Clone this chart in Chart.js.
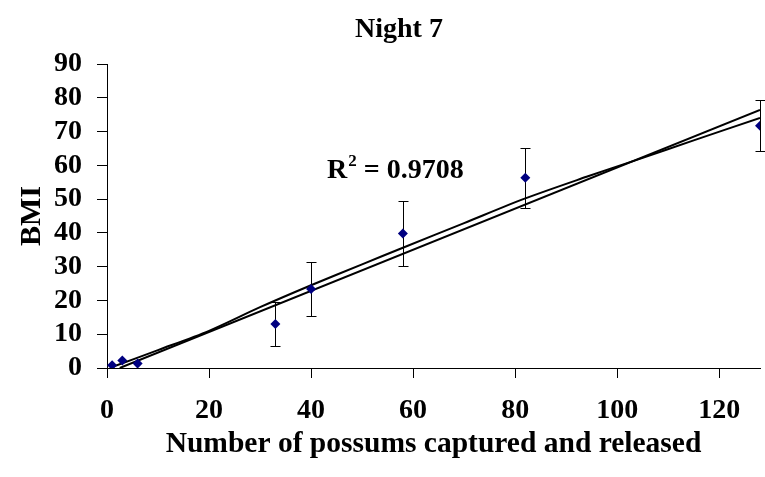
<!DOCTYPE html>
<html>
<head>
<meta charset="utf-8">
<script src="https://cdn.jsdelivr.net/npm/chart.js@4/dist/chart.umd.min.js"></script>
<style>
html,body{margin:0;padding:0;background:#fff;}
#wrap{width:765px;height:477px;}
</style>
</head>
<body>
<div id="wrap"><canvas id="c" width="765" height="477"></canvas></div>
<script>
// ---- data ----
const possums = [1, 3, 6, 33, 40, 58, 82, 128];
const bmi = [0.8, 2.2, 1.3, 13, 23.4, 39.8, 56.3, 71.7];
const bmiError = [0, 0, 0, 6.4, 8.1, 9.6, 8.8, 7.6];

const linearTrendX = [2.5, 128];
const linearTrendY = [0, 76.4];

const polyTrendX = [1, 10, 20, 30, 40, 50, 58, 70, 82, 94, 104, 115, 128];
const polyTrendY = [0.3, 5.3, 11.0, 18.0, 24.5, 30.7, 35.6, 42.9, 50.2, 56.6, 61.7, 67.4, 74.0];

const xTicks = [0, 20, 40, 60, 80, 100, 120];
const yTicks = [0, 10, 20, 30, 40, 50, 60, 70, 80, 90];

const chartTitle = 'Night 7';
const xTitle = 'Number of possums captured and released';
const yTitle = 'BMI';
const r2Label = '0.9708';

const FONT = "'Liberation Serif', 'Times New Roman', serif";

function pts(xs, ys) { return xs.map((x, i) => ({x: x, y: ys[i]})); }

const errorBars = {
  id: 'errorBars',
  beforeDatasetsDraw(chart) {
    const ctx = chart.ctx, xs = chart.scales.x, ys = chart.scales.y;
    ctx.save();
    ctx.strokeStyle = '#000';
    ctx.lineWidth = 1;
    possums.forEach((x, i) => {
      const e = bmiError[i];
      if (!e) return;
      const px = Math.round(xs.getPixelForValue(x)) + 0.5;
      const top = Math.round(ys.getPixelForValue(bmi[i] + e)) + 0.5;
      const bot = Math.round(ys.getPixelForValue(bmi[i] - e)) + 0.5;
      ctx.beginPath();
      ctx.moveTo(px, top); ctx.lineTo(px, bot);
      ctx.moveTo(px - 5, top); ctx.lineTo(px + 5, top);
      ctx.moveTo(px - 5, bot); ctx.lineTo(px + 5, bot);
      ctx.stroke();
    });
    ctx.restore();
  }
};

const texts = {
  id: 'texts',
  afterDraw(chart) {
    const ctx = chart.ctx;
    ctx.save();
    ctx.fillStyle = '#000';
    ctx.textBaseline = 'alphabetic';
    ctx.font = 'bold 28px ' + FONT;
    ctx.textAlign = 'center';
    ctx.fillText(chartTitle, 399, 37);
    // R squared annotation
    ctx.textAlign = 'left';
    let x = 327, y = 178;
    ctx.fillText('R', x, y);
    x += ctx.measureText('R').width;
    ctx.font = 'bold 17px ' + FONT;
    ctx.fillText('2', x + 1, y - 12);
    x += ctx.measureText('2').width + 1;
    ctx.font = 'bold 28px ' + FONT;
    ctx.fillText(' = ' + r2Label, x, y);
    ctx.restore();
  }
};

new Chart(document.getElementById('c'), {
  type: 'scatter',
  data: {
    datasets: [
      {
        label: 'BMI',
        data: pts(possums, bmi),
        pointStyle: 'rectRot',
        pointRadius: 5,
        pointHoverRadius: 5,
        backgroundColor: '#000080',
        borderColor: '#000080',
        borderWidth: 0,
        showLine: false,
        order: 0
      },
      {
        label: 'Linear',
        data: pts(linearTrendX, linearTrendY),
        showLine: true,
        borderColor: '#000',
        borderWidth: 2,
        pointRadius: 0,
        fill: false,
        order: 1
      },
      {
        label: 'Poly',
        data: pts(polyTrendX, polyTrendY),
        showLine: true,
        borderColor: '#000',
        borderWidth: 2,
        pointRadius: 0,
        tension: 0.3,
        fill: false,
        order: 2
      }
    ]
  },
  options: {
    responsive: false,
    animation: false,
    devicePixelRatio: 1,
    layout: { padding: { top: 64, right: 0, bottom: 0, left: 0 } },
    plugins: {
      legend: { display: false },
      title: { display: false },
      tooltip: { enabled: false }
    },
    scales: {
      x: {
        type: 'linear',
        min: 0,
        max: 128,
        afterBuildTicks(s) { s.ticks = xTicks.map(v => ({value: v})); },
        afterFit(s) { s.height = 109; },
        grid: { drawOnChartArea: false, drawTicks: true, tickLength: 10, color: '#000', tickWidth: 1 },
        border: { display: true, color: '#000', width: 1 },
        ticks: { color: '#000', padding: 16, maxRotation: 0, autoSkip: false, font: { family: FONT, size: 28, weight: 'bold' } },
        title: { display: true, text: xTitle, color: '#000', padding: { top: 0, bottom: 15 }, font: { family: FONT, size: 29.5, weight: 'bold' } }
      },
      y: {
        type: 'linear',
        min: 0,
        max: 90,
        afterBuildTicks(s) { s.ticks = yTicks.map(v => ({value: v})); },
        afterFit(s) { s.width = 107; },
        grid: { drawOnChartArea: false, drawTicks: true, tickLength: 10, color: '#000', tickWidth: 1 },
        border: { display: true, color: '#000', width: 1 },
        ticks: { color: '#000', padding: 15, autoSkip: false, font: { family: FONT, size: 28, weight: 'bold' } },
        title: { display: true, text: yTitle, color: '#000', padding: { top: 14, bottom: 0 }, font: { family: FONT, size: 30, weight: 'bold' } }
      }
    }
  },
  plugins: [errorBars, texts]
});
</script>
</body>
</html>
